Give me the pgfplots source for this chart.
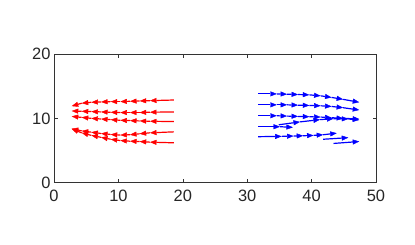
\documentclass[border=0pt]{standalone}
\usepackage{fontspec}
\setmainfont{Liberation Sans}
\usepackage{pgfplots}
\pgfplotsset{compat=1.18}
\usetikzlibrary{arrows.meta}

\pgfplotsset{
  rarr/.style={color=red, line width=1.2bp, no marks, line join=miter,
    -{Triangle[length=6.5bp,width=5bp,fill=red,line width=0.4bp]}},
  barr/.style={color=blue, line width=1.2bp, no marks, line join=miter,
    -{Triangle[length=6.5bp,width=5bp,fill=blue,line width=0.4bp]}},
}
\newcommand{\R}[4]{\addplot[rarr] coordinates {(#1,#2) (#3,#4)};}
\newcommand{\B}[4]{\addplot[barr] coordinates {(#1,#2) (#3,#4)};}

\begin{document}
\begin{tikzpicture}
\begin{axis}[
  at={(0,0)}, anchor=south west,
  scale only axis,
  width=322bp, height=128.7bp,
  xmin=0, xmax=50, ymin=0, ymax=20,
  xtick={0,10,20,30,40,50},
  ytick={0,10,20},
  tick align=inside,
  major tick length=3.5bp,
  axis line style={draw=black!80, line width=0.6bp},
  tick style={draw=black!80, line width=0.6bp},
  ticklabel style={font=\fontsize{16.5}{16.5}\selectfont, text=black!85},
  xticklabel style={yshift=-4bp},
  /pgf/number format/assume math mode=true,
]
% red trajectories (moving left)
\R{18.6}{12.85}{14.9}{12.75}
\R{14.9}{12.75}{13.3}{12.70}
\R{13.3}{12.70}{11.8}{12.65}
\R{11.8}{12.65}{10.3}{12.60}
\R{10.3}{12.60}{8.8}{12.60}
\R{8.8}{12.60}{7.3}{12.55}
\R{7.3}{12.55}{5.8}{12.50}
\R{5.8}{12.50}{4.3}{12.35}
\R{4.3}{12.35}{2.75}{11.90}
\R{18.6}{11.00}{14.9}{10.95}
\R{14.9}{10.95}{13.3}{10.90}
\R{13.3}{10.90}{11.8}{10.90}
\R{11.8}{10.90}{10.3}{10.90}
\R{10.3}{10.90}{8.8}{10.95}
\R{8.8}{10.95}{7.3}{11.00}
\R{7.3}{11.00}{5.8}{11.05}
\R{5.8}{11.05}{4.3}{11.10}
\R{4.3}{11.10}{2.75}{11.15}
\R{18.6}{9.50}{14.9}{9.55}
\R{14.9}{9.55}{13.3}{9.60}
\R{13.3}{9.60}{11.8}{9.65}
\R{11.8}{9.65}{10.3}{9.70}
\R{10.3}{9.70}{8.8}{9.80}
\R{8.8}{9.80}{7.3}{9.90}
\R{7.3}{9.90}{5.8}{10.00}
\R{5.8}{10.00}{4.3}{10.15}
\R{4.3}{10.15}{2.75}{10.30}
\R{18.6}{7.90}{14.9}{7.75}
\R{14.9}{7.75}{13.3}{7.60}
\R{13.3}{7.60}{11.8}{7.45}
\R{11.8}{7.45}{10.3}{7.40}
\R{10.3}{7.40}{8.8}{7.50}
\R{8.8}{7.50}{7.3}{7.65}
\R{7.3}{7.65}{5.8}{7.85}
\R{5.8}{7.85}{4.3}{8.05}
\R{4.3}{8.05}{2.75}{8.40}
\R{18.6}{6.20}{14.9}{6.30}
\R{14.9}{6.30}{13.3}{6.40}
\R{13.3}{6.40}{11.8}{6.45}
\R{11.8}{6.45}{10.3}{6.55}
\R{10.3}{6.55}{8.8}{6.75}
\R{8.8}{6.75}{7.3}{7.05}
\R{7.3}{7.05}{5.8}{7.35}
\R{5.8}{7.35}{4.3}{7.75}
\R{4.3}{7.75}{2.75}{8.35}
% blue trajectories (moving right)
\B{31.7}{13.80}{34.6}{13.80}
\B{34.6}{13.80}{36.2}{13.75}
\B{36.2}{13.75}{37.9}{13.70}
\B{37.9}{13.70}{39.65}{13.65}
\B{39.65}{13.65}{41.4}{13.50}
\B{41.4}{13.50}{43.1}{13.25}
\B{43.1}{13.25}{44.9}{12.95}
\B{44.9}{12.95}{47.4}{12.50}
\B{31.7}{12.10}{34.6}{12.10}
\B{34.6}{12.10}{36.2}{12.10}
\B{36.2}{12.10}{37.9}{12.05}
\B{37.9}{12.05}{39.65}{12.00}
\B{39.65}{12.00}{41.4}{11.95}
\B{41.4}{11.95}{43.1}{11.85}
\B{43.1}{11.85}{44.9}{11.65}
\B{44.9}{11.65}{47.4}{11.30}
\B{31.7}{10.40}{34.6}{10.40}
\B{34.6}{10.40}{36.2}{10.35}
\B{36.2}{10.35}{37.9}{10.30}
\B{37.9}{10.30}{39.65}{10.25}
\B{39.65}{10.25}{41.4}{10.20}
\B{41.4}{10.20}{43.1}{10.10}
\B{43.1}{10.10}{44.9}{10.00}
\B{44.9}{10.00}{47.4}{9.90}
\B{31.7}{8.70}{35.1}{8.70}
\B{35.1}{8.70}{37.1}{8.60}
\B{34.9}{9.00}{38.2}{9.45}
\B{38.2}{9.45}{41.3}{9.80}
\B{41.3}{9.80}{43.4}{9.95}
\B{43.4}{9.95}{45.7}{9.90}
\B{45.7}{9.90}{47.4}{9.75}
\B{31.7}{7.15}{35.35}{7.20}
\B{35.35}{7.20}{37.2}{7.25}
\B{37.2}{7.25}{38.7}{7.30}
\B{38.7}{7.30}{40.3}{7.35}
\B{40.3}{7.35}{41.8}{7.45}
\B{41.8}{7.45}{43.9}{7.70}
\B{41.8}{6.75}{45.7}{7.00}
\B{43.4}{6.10}{47.4}{6.40}
\end{axis}
\path[use as bounding box] (-54bp,-62.3bp) rectangle (361bp,182.7bp);
\end{tikzpicture}
\end{document}
